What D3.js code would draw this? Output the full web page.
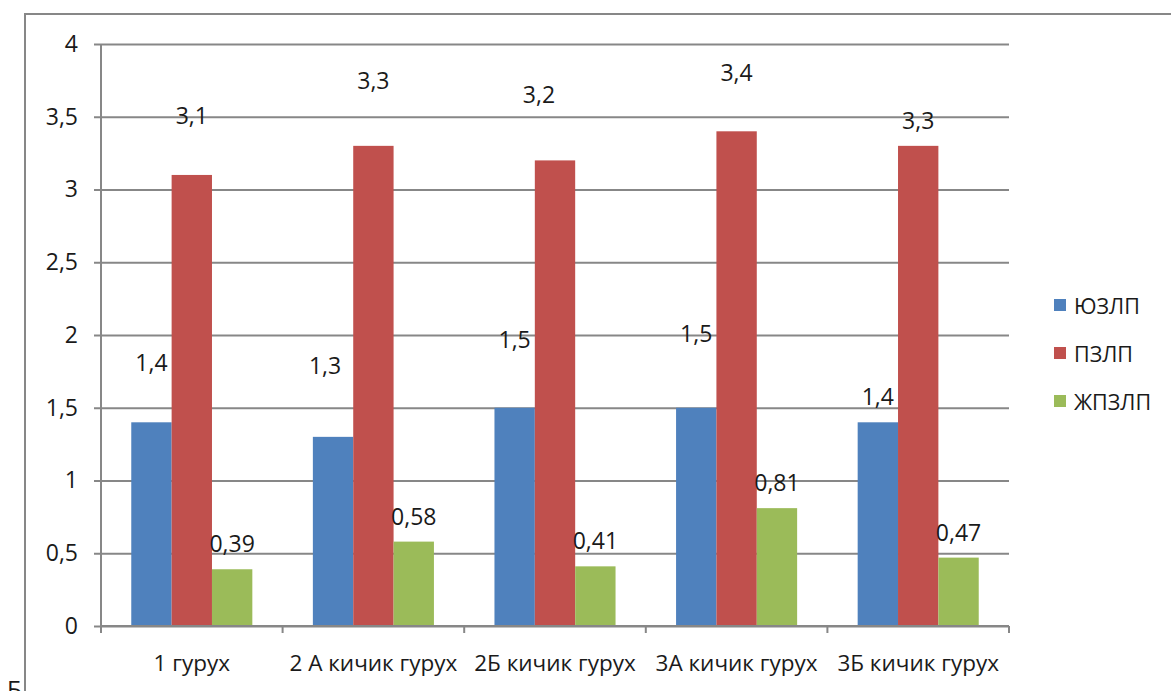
<!DOCTYPE html>
<html>
<head>
<meta charset="utf-8">
<script src="https://cdn.jsdelivr.net/npm/d3@7"></script>
<style>
  html, body { margin: 0; padding: 0; background: #fff; }
  svg { display: block; }
  text { font-family: "Open Sans", "Noto Sans", sans-serif; fill: #1a1a1a; }
</style>
</head>
<body>
<svg id="chart" width="1171" height="691"></svg>
<script>
// Groups on the horizontal axis
const categories = ["1 гурух", "2 А кичик гурух", "2Б кичик гурух", "3А кичик гурух", "3Б кичик гурух"];

// Series names and values per group
const seriesNames = ["ЮЗЛП", "ПЗЛП", "ЖПЗЛП"];
const valuesYZLP = [1.4, 1.3, 1.5, 1.5, 1.4];
const valuesPZLP = [3.1, 3.3, 3.2, 3.4, 3.3];
const valuesJPZLP = [0.39, 0.58, 0.41, 0.81, 0.47];

// Value-axis ticks
const yTicks = [0, 0.5, 1, 1.5, 2, 2.5, 3, 3.5, 4];

// Hand-moved value labels: extra [dx, dy] in pixels from the default spot above each bar
const labelNudgeYZLP = [[0, -34], [-8, -46], [0, -43], [0, -49], [0, 0]];
const labelNudgePZLP = [[0, -34], [0, -40], [-16, -40], [0, -33], [0, 0]];
const labelNudgeJPZLP = [[0, 0], [0, 0], [0, 0], [0, 0], [0, 0]];

const colors = ["#4F81BD", "#C0504D", "#9BBB59"];
const seriesValues = [valuesYZLP, valuesPZLP, valuesJPZLP];
const seriesNudges = [labelNudgeYZLP, labelNudgePZLP, labelNudgeJPZLP];

const svg = d3.select("#chart");
const gridColor = "#878787";
const fmt = v => String(v).replace(".", ",");

// Chart frame (runs past the right and bottom edges)
svg.append("rect")
  .attr("x", 25).attr("y", 14)
  .attr("width", 1200).attr("height", 720)
  .attr("fill", "none").attr("stroke", gridColor).attr("stroke-width", 2);

const plot = { left: 101, right: 1009, top: 44, bottom: 626 };

const x0 = d3.scaleBand().domain(categories).range([plot.left, plot.right]).padding(0);
const bw = x0.bandwidth();
const x1 = d3.scaleBand().domain(seriesNames).range([bw / 6, bw - bw / 6]).padding(0);
const y = d3.scaleLinear().domain([0, 4]).range([plot.bottom, plot.top]);

// Horizontal gridlines with outward tick marks
const yAxis = d3.axisLeft(y).tickValues(yTicks).tickFormat(fmt)
  .tickSize(-(plot.right - plot.left)).tickPadding(23);
const gy = svg.append("g").attr("transform", `translate(${plot.left},0)`).call(yAxis);
gy.select(".domain").remove();
gy.selectAll(".tick line").attr("stroke", gridColor).attr("stroke-width", 2).attr("x1", -7);
gy.selectAll(".tick text").attr("font-size", 23).attr("fill", "#1a1a1a")
  .attr("font-family", "'Open Sans', sans-serif");

// Vertical value axis line
svg.append("line")
  .attr("x1", plot.left).attr("x2", plot.left)
  .attr("y1", plot.top).attr("y2", plot.bottom)
  .attr("stroke", gridColor).attr("stroke-width", 2);

// Bars
const groups = svg.append("g").selectAll("g")
  .data(categories).join("g")
  .attr("transform", c => `translate(${x0(c)},0)`);

seriesNames.forEach((s, si) => {
  groups.append("rect")
    .attr("x", x1(s))
    .attr("width", x1.bandwidth())
    .attr("y", (c, ci) => y(seriesValues[si][ci]))
    .attr("height", (c, ci) => y(0) - y(seriesValues[si][ci]))
    .attr("fill", colors[si]);
});

// Category axis with tick marks at group boundaries
const xAxisG = svg.append("g");
xAxisG.append("line")
  .attr("x1", plot.left).attr("x2", plot.right)
  .attr("y1", plot.bottom).attr("y2", plot.bottom)
  .attr("stroke", gridColor).attr("stroke-width", 2);
const boundaries = categories.map(c => x0(c)).concat([x0(categories[categories.length - 1]) + bw]);
xAxisG.selectAll("line.tk").data(boundaries).join("line")
  .attr("class", "tk")
  .attr("x1", d => d).attr("x2", d => d)
  .attr("y1", plot.bottom).attr("y2", plot.bottom + 7)
  .attr("stroke", gridColor).attr("stroke-width", 2);
xAxisG.selectAll("text").data(categories).join("text")
  .attr("x", c => x0(c) + bw / 2)
  .attr("y", 662)
  .attr("text-anchor", "middle")
  .attr("dominant-baseline", "central")
  .attr("font-size", 22.5)
  .text(c => c);

// Value labels
seriesNames.forEach((s, si) => {
  groups.append("text")
    .attr("x", (c, ci) => x1(s) + x1.bandwidth() / 2 + seriesNudges[si][ci][0])
    .attr("y", (c, ci) => y(seriesValues[si][ci]) - 26 + seriesNudges[si][ci][1])
    .attr("text-anchor", "middle")
    .attr("dominant-baseline", "central")
    .attr("font-size", 23)
    .text((c, ci) => fmt(seriesValues[si][ci]));
});

// Legend
const legend = svg.append("g").selectAll("g")
  .data(seriesNames).join("g")
  .attr("transform", (s, i) => `translate(1054,${305 + i * 48})`);
legend.append("rect")
  .attr("x", 0).attr("y", -6).attr("width", 12).attr("height", 12)
  .attr("fill", (s, i) => colors[i]);
legend.append("text")
  .attr("x", 20).attr("y", 0)
  .attr("dominant-baseline", "central")
  .attr("font-size", 21.5)
  .text(s => s);

// Caption letter at the lower-left corner, partly below the page edge
svg.append("text")
  .attr("x", 7).attr("y", 698)
  .attr("font-family", "'Liberation Serif', 'DejaVu Serif', serif")
  .attr("font-size", 24)
  .text("Б");
</script>
</body>
</html>
